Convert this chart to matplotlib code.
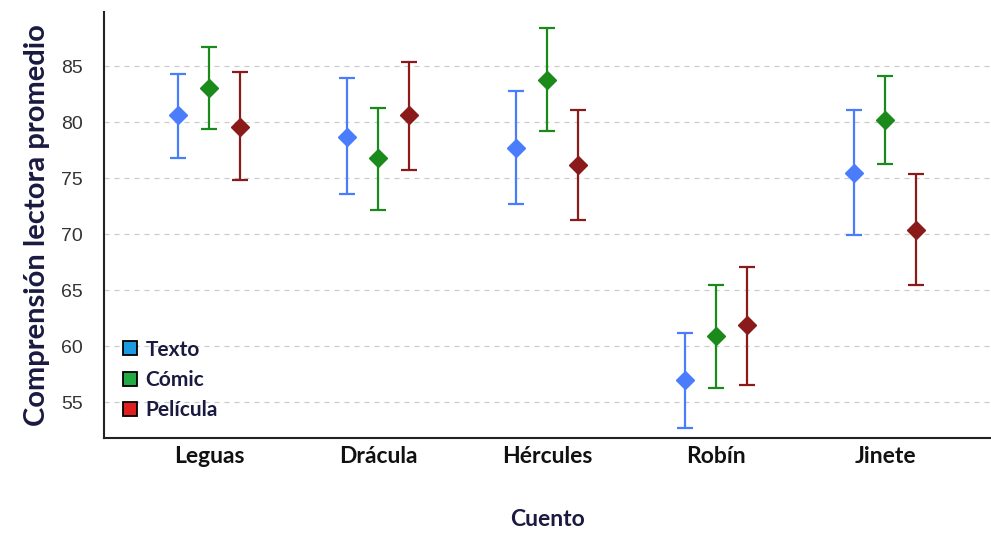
import numpy as np
import matplotlib.pyplot as plt
from matplotlib.lines import Line2D

cuentos = ["Leguas", "Drácula", "Hércules", "Robín", "Jinete"]
series = ["Texto", "Cómic", "Película"]

# means, lower and upper ends of the error bars, one list per series
texto_mean = [80.6, 78.7, 77.7, 57.0, 75.5]
texto_low = [76.8, 73.6, 72.7, 52.7, 69.9]
texto_high = [84.3, 83.9, 82.8, 61.2, 81.1]

comic_mean = [83.0, 76.8, 83.8, 60.9, 80.2]
comic_low = [79.4, 72.2, 79.2, 56.3, 76.3]
comic_high = [86.7, 81.3, 88.4, 65.5, 84.1]

pelicula_mean = [79.6, 80.6, 76.2, 61.9, 70.4]
pelicula_low = [74.8, 75.7, 71.3, 56.5, 65.5]
pelicula_high = [84.5, 85.4, 81.1, 67.1, 75.4]

yticks = [55, 60, 65, 70, 75, 80, 85]

line_colors = ["#4a7dfc", "#1a8a1a", "#8b1a1a"]
patch_colors = ["#1e9be0", "#22aa44", "#e02020"]
label_color = "#1a1a40"

fig = plt.figure(figsize=(9.91, 5.33), dpi=100)
ax = fig.add_axes([0.105, 0.178, 0.894, 0.799])

x = np.arange(len(cuentos))
offsets = [-0.183, 0.0, 0.183]
data = [(texto_mean, texto_low, texto_high),
        (comic_mean, comic_low, comic_high),
        (pelicula_mean, pelicula_low, pelicula_high)]

for (m, lo, hi), off, col in zip(data, offsets, line_colors):
    m = np.array(m)
    err = [m - np.array(lo), np.array(hi) - m]
    ax.errorbar(x + off, m, yerr=err, fmt="D", color=col, ecolor=col,
                markersize=9.5, elinewidth=1.6, capsize=6, capthick=1.6, zorder=3)

ax.set_xlim(-0.62, 4.62)
ax.set_ylim(51.8, 89.8)
ax.set_yticks(yticks)
ax.set_xticks(x)
ax.set_xticklabels(cuentos, fontfamily="Lato", fontweight="bold",
                   fontsize=16.5, color="#111111")
ax.tick_params(axis="both", length=0)
ax.tick_params(axis="x", pad=6)
ax.tick_params(axis="y", pad=15, labelsize=14, labelcolor="#333333")
for t in ax.get_yticklabels():
    t.set_fontfamily("Liberation Sans")

ax.grid(axis="y", color="#cccccc", linestyle=(0, (4, 4)), linewidth=0.9)
ax.set_axisbelow(True)
for side in ["top", "right"]:
    ax.spines[side].set_visible(False)
ax.spines["left"].set_linewidth(1.5)
ax.spines["bottom"].set_linewidth(1.5)
ax.spines["left"].set_color("#222222")
ax.spines["bottom"].set_color("#222222")

ax.set_xlabel("Cuento", fontfamily="Lato", fontweight="bold", fontsize=16.5,
              color=label_color, labelpad=30)
ax.set_ylabel("Comprensión lectora promedio", fontfamily="Lato",
              fontweight="bold", fontsize=21, color=label_color, labelpad=8)

handles = [Line2D([], [], marker="s", linestyle="", markersize=10,
                  markerfacecolor=c, markeredgecolor="black", markeredgewidth=1.3)
           for c in patch_colors]
leg = ax.legend(handles, series, loc="lower left", frameon=False,
                handletextpad=0.25, labelspacing=0.5, borderaxespad=0.35,
                bbox_to_anchor=(0.0, 0.005),
                handlelength=1.0, prop={"family": "Lato", "weight": "bold", "size": 15})
for t in leg.get_texts():
    t.set_color(label_color)

fig.savefig("out.png", dpi=100)
